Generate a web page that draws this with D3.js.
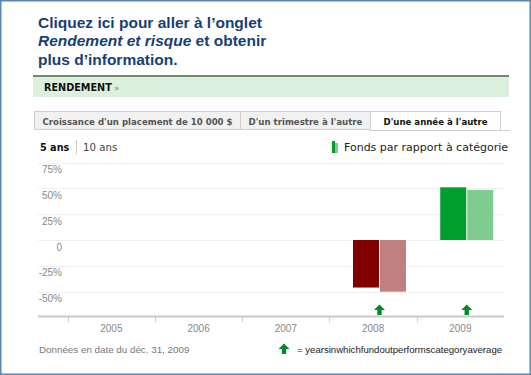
<!DOCTYPE html>
<html>
<head>
<meta charset="utf-8">
<script src="https://cdn.jsdelivr.net/npm/d3@7"></script>
<style>
  body { margin: 0; background: #fff; }
  svg { display: block; }
</style>
</head>
<body>
<div id="chart"></div>
<script>
// data
const years = ['2005', '2006', '2007', '2008', '2009'];
const fundReturns = [null, null, null, -46, 51];
const categoryReturns = [null, null, null, -50, 48.5];
const outperformYears = ['2008', '2009'];
const yTicks = [75, 50, 25, 0, -25, -50];
const tabLabels = ["Croissance d'un placement de 10 000 $", "D'un trimestre à l'autre", "D'une année à l'autre"];

const W = 531, H = 375;
const svg = d3.select('#chart').append('svg')
    .attr('width', W)
    .attr('height', H);

// outer frame
svg.append('rect')
    .attr('x', 0.75).attr('y', 0.75)
    .attr('width', W - 1.5).attr('height', H - 1.5)
    .attr('fill', '#fff')
    .attr('stroke', '#5b86b4')
    .attr('stroke-width', 1.5);

// heading
const heading = svg.append('text')
    .attr('font-family', 'Liberation Sans, Arial, sans-serif')
    .attr('font-size', 15.5)
    .attr('font-weight', 'bold')
    .attr('fill', '#173f73');
heading.append('tspan').attr('x', 38).attr('y', 27.5).text('Cliquez ici pour aller à l’onglet');
heading.append('tspan').attr('x', 38).attr('y', 46).attr('font-style', 'italic').text('Rendement et risque');
heading.append('tspan').text(' et obtenir');
heading.append('tspan').attr('x', 38).attr('y', 64.5).text('plus d’information.');

// RENDEMENT bar
svg.append('rect')
    .attr('x', 33).attr('y', 76)
    .attr('width', 476).attr('height', 21)
    .attr('fill', '#ddf0dd');
svg.append('line')
    .attr('x1', 33).attr('x2', 509)
    .attr('y1', 76).attr('y2', 76)
    .attr('stroke', '#6f8a70')
    .attr('stroke-width', 2);
const rend = svg.append('text')
    .attr('x', 44).attr('y', 91)
    .attr('font-family', 'DejaVu Sans, Verdana, sans-serif')
    .attr('font-size', 9.7)
    .attr('font-weight', 'bold')
    .attr('fill', '#111')
    .text('RENDEMENT');
rend.append('tspan').attr('font-weight', 'normal').attr('fill', '#777').attr('font-size', 8).text(' »');

// tabs
const tabX = [34, 240, 370, 500];
tabLabels.forEach(function(t, i) {
    const sel = i === 2;
    svg.append('rect')
        .attr('x', tabX[i] + 0.5).attr('y', 111.5)
        .attr('width', tabX[i + 1] - tabX[i]).attr('height', sel ? 19 : 18)
        .attr('fill', sel ? '#fff' : '#f1f1f1')
        .attr('stroke', '#cfcfcf');
    svg.append('text')
        .attr('x', (tabX[i] + tabX[i + 1]) / 2 + 0.5)
        .attr('y', 124.5)
        .attr('text-anchor', 'middle')
        .attr('font-family', 'DejaVu Sans, Verdana, sans-serif')
        .attr('font-size', 8.6)
        .attr('font-weight', 'bold')
        .attr('fill', sel ? '#111' : '#555')
        .text(t);
});
svg.append('line')
    .attr('x1', 500).attr('x2', 510)
    .attr('y1', 130.5).attr('y2', 130.5)
    .attr('stroke', '#cfcfcf');

// period switch
svg.append('text')
    .attr('x', 40).attr('y', 151)
    .attr('font-family', 'DejaVu Sans, Verdana, sans-serif')
    .attr('font-size', 9.7)
    .attr('font-weight', 'bold')
    .attr('fill', '#111')
    .text('5 ans');
svg.append('line')
    .attr('x1', 76.5).attr('x2', 76.5)
    .attr('y1', 140).attr('y2', 154)
    .attr('stroke', '#ccc');
svg.append('text')
    .attr('x', 83).attr('y', 151)
    .attr('font-family', 'DejaVu Sans, Verdana, sans-serif')
    .attr('font-size', 10.2)
    .attr('fill', '#444')
    .text('10 ans');

// legend
svg.append('rect').attr('x', 332).attr('y', 141).attr('width', 3).attr('height', 12).attr('fill', '#009e2a');
svg.append('rect').attr('x', 335).attr('y', 143).attr('width', 3).attr('height', 10).attr('fill', '#80cc90');
svg.append('text')
    .attr('x', 344).attr('y', 151)
    .attr('font-family', 'DejaVu Sans, Verdana, sans-serif')
    .attr('font-size', 11)
    .attr('fill', '#222')
    .text('Fonds par rapport à catégorie');

// scales
const x = d3.scaleBand()
    .domain(years)
    .range([67.7, 504]);

const y = d3.scaleLinear()
    .domain([-75, 75])
    .range([317.5, 162.5]);

// gridlines
svg.append('g')
    .selectAll('line')
    .data(yTicks)
    .enter().append('line')
    .attr('x1', 38).attr('x2', 504)
    .attr('y1', function(d) { return Math.round(y(d)) + 0.5; })
    .attr('y2', function(d) { return Math.round(y(d)) + 0.5; })
    .attr('stroke', '#f0f0f0');

// y labels
svg.append('g')
    .selectAll('text')
    .data(yTicks)
    .enter().append('text')
    .attr('x', 62)
    .attr('y', function(d) { return y(d) + 10.5; })
    .attr('text-anchor', 'end')
    .attr('font-family', 'Liberation Sans, Arial, sans-serif')
    .attr('font-size', 10)
    .attr('fill', '#888')
    .text(function(d) { return d === 0 ? '0' : d + '%'; });

// bars
const barW = 26, barOff = 23.5;
const bars = [];
years.forEach(function(yr, i) {
    if (fundReturns[i] != null) bars.push({ year: yr, v: fundReturns[i], kind: 'fund' });
    if (categoryReturns[i] != null) bars.push({ year: yr, v: categoryReturns[i], kind: 'cat' });
});
const color = function(d) {
    if (d.v < 0) return d.kind === 'fund' ? '#7f0000' : '#c08080';
    return d.kind === 'fund' ? '#009e2a' : '#80cc90';
};
svg.append('g')
    .selectAll('rect')
    .data(bars)
    .enter().append('rect')
    .attr('x', function(d) { return x(d.year) + barOff + (d.kind === 'cat' ? barW + 1 : 0); })
    .attr('y', function(d) { return y(Math.max(0, d.v)); })
    .attr('width', barW)
    .attr('height', function(d) { return Math.abs(y(d.v) - y(0)); })
    .attr('fill', color);

// up arrows
const arrowPath = 'M0,-5.5 L5.5,0 L2.2,0 L2.2,5 L-2.2,5 L-2.2,0 L-5.5,0 Z';
svg.append('g')
    .selectAll('path')
    .data(outperformYears)
    .enter().append('path')
    .attr('transform', function(d) { return 'translate(' + (x(d) + barOff + barW + 0.5) + ',310)'; })
    .attr('d', arrowPath)
    .attr('fill', '#078a2a');

// x axis
svg.append('line')
    .attr('x1', 38).attr('x2', 504)
    .attr('y1', 316.5).attr('y2', 316.5)
    .attr('stroke', '#c8c8c8')
    .attr('stroke-width', 2);
svg.append('g')
    .selectAll('line')
    .data(years)
    .enter().append('line')
    .attr('x1', function(d) { return Math.round(x(d)) + 0.5; })
    .attr('x2', function(d) { return Math.round(x(d)) + 0.5; })
    .attr('y1', 317).attr('y2', 322)
    .attr('stroke', '#ccc');
svg.append('g')
    .selectAll('text')
    .data(years)
    .enter().append('text')
    .attr('x', function(d) { return x(d) + x.bandwidth() / 2; })
    .attr('y', 332)
    .attr('text-anchor', 'middle')
    .attr('font-family', 'Liberation Sans, Arial, sans-serif')
    .attr('font-size', 10)
    .attr('fill', '#888')
    .text(function(d) { return d; });

// footer
svg.append('text')
    .attr('x', 39).attr('y', 353)
    .attr('font-family', 'Liberation Sans, Arial, sans-serif')
    .attr('font-size', 9.8)
    .attr('fill', '#777')
    .text('Données en date du déc. 31, 2009');
svg.append('path')
    .attr('transform', 'translate(284,349)')
    .attr('d', arrowPath)
    .attr('fill', '#078a2a');
svg.append('text')
    .attr('x', 297).attr('y', 353)
    .attr('font-family', 'Liberation Sans, Arial, sans-serif')
    .attr('font-size', 9.6)
    .attr('fill', '#222')
    .text('= yearsinwhichfundoutperformscategoryaverage');
</script>
</body>
</html>
